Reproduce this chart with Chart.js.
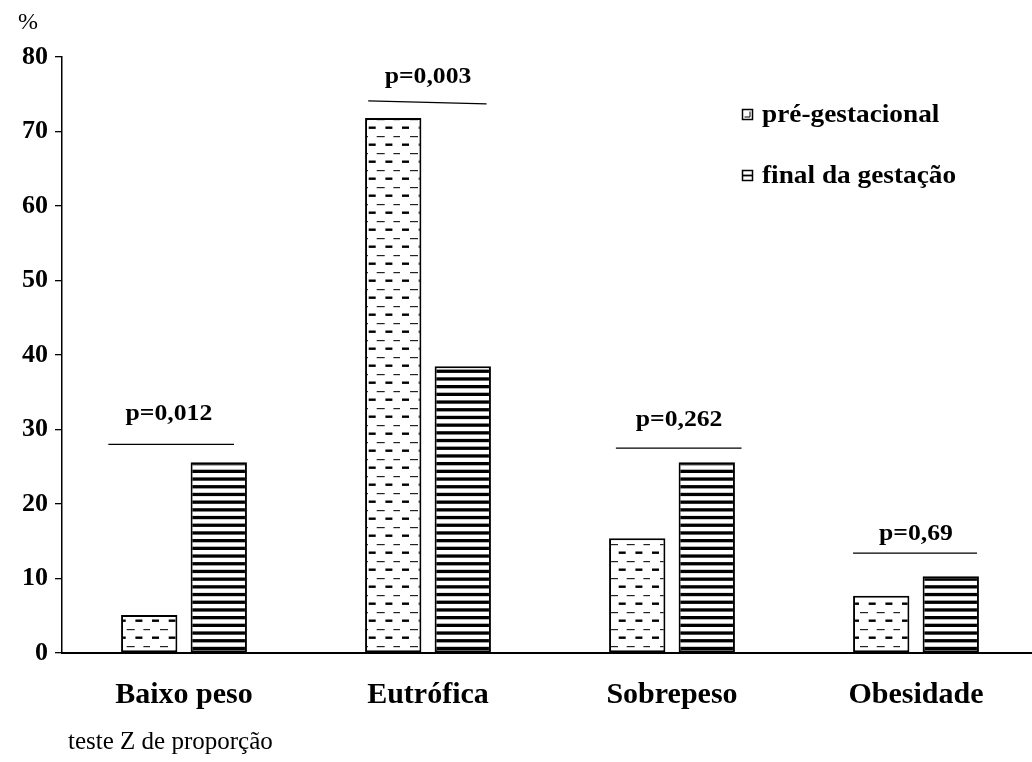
<!DOCTYPE html>
<html>
<head>
<meta charset="utf-8">
<script src="https://cdn.jsdelivr.net/npm/chart.js@4.4.1/dist/chart.umd.min.js"></script>
<style>
  html, body { margin: 0; padding: 0; background: #fff; overflow: hidden; }
  canvas { display: block; }
</style>
</head>
<body>
<canvas id="chart" width="1040" height="762"></canvas>
<script>
const CATEGORIES = ["Baixo peso", "Eutrófica", "Sobrepeso", "Obesidade"];
const SERIES_NAMES = ["pré-gestacional", "final da gestação"];
const PRE_VALUES = [5.1, 71.8, 15.4, 7.7];
const FINAL_VALUES = [25.6, 38.5, 25.6, 10.3];
const Y_TICKS = [0, 10, 20, 30, 40, 50, 60, 70, 80];
const P_LABELS = ["p=0,012", "p=0,003", "p=0,262", "p=0,69"];
// bracket heights in % units (start / end, the Eutrófica one leans a little)
const P_LINE_FROM = [28.0, 74.1, 27.5, 13.4];
const P_LINE_TO = [28.0, 73.7, 27.5, 13.4];
const P_TEXT_AT = [32.1, 77.4, 31.3, 16.0];
const FOOTNOTE = "teste Z de proporção";

// horizontal placement of brackets, as fractions of one category width
const BRACKET_SPAN = [[-0.31, 0.205], [-0.245, 0.24], [-0.23, 0.285], [-0.258, 0.25]];
const TEXT_SHIFT = [-0.062, 0.0, 0.029, 0.0];

const SERIF = "'Liberation Serif', 'Times New Roman', serif";

function dashPattern() {
  const c = document.createElement("canvas");
  c.width = 50; c.height = 17;
  const g = c.getContext("2d");
  g.fillStyle = "#fff";
  g.fillRect(0, 0, c.width, c.height);
  g.fillStyle = "#000";
  for (let i = 0; i < 3; i++) {
    g.fillRect(i * 16.7 + 2, 7.5, 7, 2.4);
  }
  g.fillStyle = "#222";
  for (let i = 0; i < 3; i++) {
    g.fillRect(i * 16.7 + 10, 0, 8, 1.2);
  }
  return g.createPattern(c, "repeat");
}

function stripePattern() {
  const c = document.createElement("canvas");
  c.width = 4; c.height = 77;
  const g = c.getContext("2d");
  g.fillStyle = "#fff";
  g.fillRect(0, 0, c.width, c.height);
  g.fillStyle = "#000";
  for (let i = 0; i < 10; i++) {
    g.fillRect(0, i * 7.7, 4, 3.3);
  }
  return g.createPattern(c, "repeat");
}

function stretchedText(ctx, text, x, y, scaleX) {
  ctx.save();
  ctx.translate(x, y);
  ctx.scale(scaleX, 1);
  ctx.fillText(text, 0, 0);
  ctx.restore();
}

const annotations = {
  id: "annotations",
  afterDatasetsDraw(chart) {
    const { ctx, scales: { x, y } } = chart;
    const catW = x.getPixelForValue(1) - x.getPixelForValue(0);
    ctx.save();
    P_LABELS.forEach((label, i) => {
      const cx = x.getPixelForValue(i);
      ctx.strokeStyle = "#000";
      ctx.lineWidth = 1.3;
      ctx.beginPath();
      ctx.moveTo(cx + BRACKET_SPAN[i][0] * catW, y.getPixelForValue(P_LINE_FROM[i]));
      ctx.lineTo(cx + BRACKET_SPAN[i][1] * catW, y.getPixelForValue(P_LINE_TO[i]));
      ctx.stroke();

      ctx.fillStyle = "#000";
      ctx.font = "bold 24px " + SERIF;
      ctx.textAlign = "center";
      ctx.textBaseline = "middle";
      stretchedText(ctx, label, cx + TEXT_SHIFT[i] * catW, y.getPixelForValue(P_TEXT_AT[i]), 1.07);
    });

    // legend
    const area = chart.chartArea;
    const lx = area.left + 680;
    const rows = [area.top + 58, area.top + 119];
    ctx.textAlign = "left";
    ctx.textBaseline = "middle";
    ctx.font = "bold 26px " + SERIF;
    rows.forEach((ry, i) => {
      const top = ry - 6;
      ctx.fillStyle = "#fff";
      ctx.fillRect(lx, top, 11, 11);
      ctx.strokeStyle = "#000";
      ctx.lineWidth = 1.5;
      ctx.strokeRect(lx + 0.5, top + 0.5, 10, 10);
      if (i === 0) {
        ctx.lineWidth = 1;
        ctx.beginPath();
        ctx.moveTo(lx + 2.5, top + 8);
        ctx.lineTo(lx + 8, top + 8);
        ctx.lineTo(lx + 8, top + 2.5);
        ctx.stroke();
      } else {
        ctx.lineWidth = 1.8;
        ctx.beginPath();
        ctx.moveTo(lx + 1, top + 5.5);
        ctx.lineTo(lx + 10, top + 5.5);
        ctx.stroke();
      }
      ctx.fillStyle = "#000";
      stretchedText(ctx, SERIES_NAMES[i], lx + 20, ry, 1.05);
    });

    // unit and footnote
    ctx.font = "24px " + SERIF;
    ctx.textAlign = "center";
    stretchedText(ctx, "%", area.left - 34, area.top - 34, 1.0);
    ctx.textAlign = "left";
    ctx.font = "25px " + SERIF;
    stretchedText(ctx, FOOTNOTE, area.left + 6, area.top + 685, 1.0);
    ctx.restore();
  }
};

new Chart(document.getElementById("chart"), {
  type: "bar",
  data: {
    labels: CATEGORIES,
    datasets: [
      {
        label: SERIES_NAMES[0],
        data: PRE_VALUES,
        backgroundColor: dashPattern(),
        borderColor: "#000",
        borderWidth: 2,
        borderSkipped: false,
        categoryPercentage: 0.57,
        barPercentage: 0.81,
      },
      {
        label: SERIES_NAMES[1],
        data: FINAL_VALUES,
        backgroundColor: stripePattern(),
        borderColor: "#000",
        borderWidth: 2,
        borderSkipped: false,
        categoryPercentage: 0.57,
        barPercentage: 0.81,
      },
    ],
  },
  options: {
    responsive: false,
    animation: false,
    layout: { padding: { top: 57, right: 2, left: 0, bottom: 0 } },
    plugins: { legend: { display: false }, tooltip: { enabled: false } },
    scales: {
      x: {
        grid: { display: false, drawTicks: false },
        border: { color: "#000", width: 2 },
        ticks: { color: "#000", padding: 24, font: { family: SERIF, size: 30, weight: "bold" } },
        afterFit: (s) => { s.height = 109; },
      },
      y: {
        min: 0,
        max: 80,
        afterBuildTicks: (s) => { s.ticks = Y_TICKS.map((v) => ({ value: v })); },
        grid: { drawOnChartArea: false, tickLength: 7, color: "#000", lineWidth: 1.3 },
        border: { color: "#000", width: 1.5 },
        ticks: { color: "#000", padding: 7, font: { family: SERIF, size: 26, weight: "bold" } },
        afterFit: (s) => { s.width = 62; },
      },
    },
  },
  plugins: [annotations],
});
</script>
</body>
</html>
